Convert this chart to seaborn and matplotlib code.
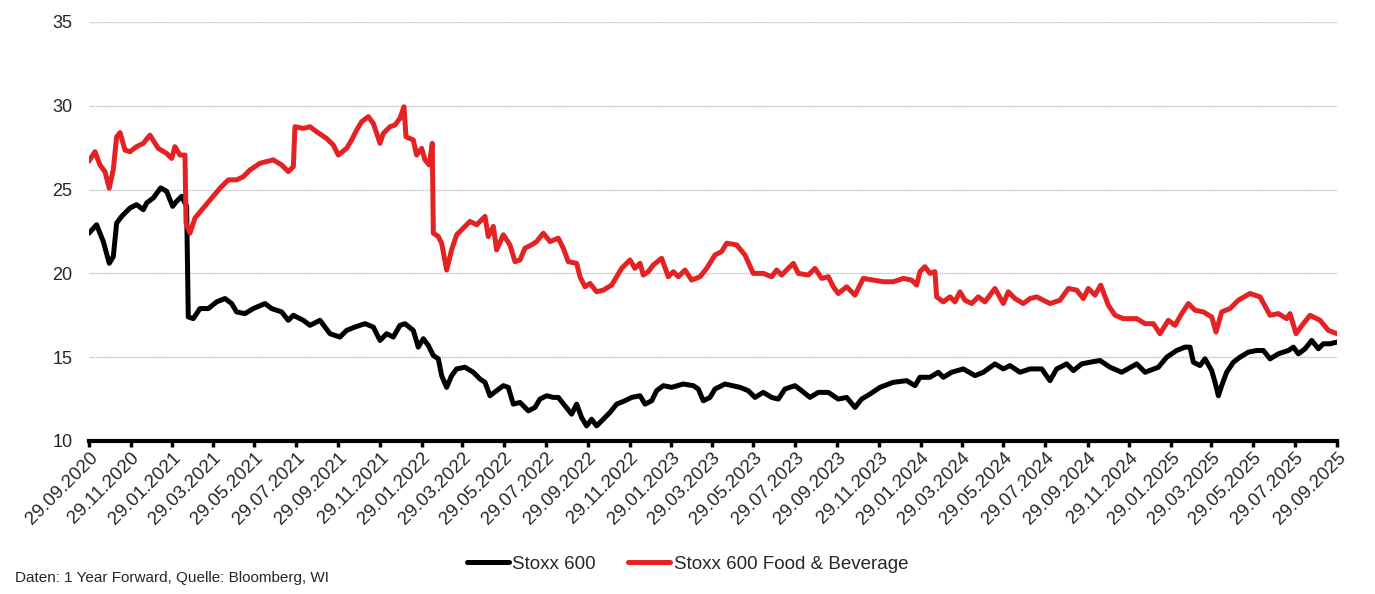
import pandas as pd
import seaborn as sns
import matplotlib.pyplot as plt
import matplotlib.dates as mdates

START = pd.Timestamp("2020-09-29")
END = pd.Timestamp("2025-09-29")

# days after 29.09.2020
food_days = [0, 8.8, 16.1, 23.4, 29.7, 35.6, 40.5, 45.4, 52.7, 60, 69.7, 79.5, 89.2, 101.4, 113.6, 121,
             125.8, 133.1, 140.5, 142, 147.8, 155.1, 167.3, 181.9, 191.7, 203.9, 216, 225.8, 235.5, 250.2,
             260, 269.7, 281.9, 291.6, 299, 301.4, 313.6, 323.3, 333.1, 347.7, 357.5, 364.8, 377, 384.3,
             391.6, 399, 408.7, 416, 425.8, 430.6, 440.4, 447.7,
             455, 460.9, 463.8, 474.5, 479.4, 486.7, 491.6, 497.9, 502.3, 503.8, 511.1, 516, 523.3, 530.6,
             537.9, 547.7, 557.4, 567.2, 579.4, 584.2, 591.6, 596.4, 606.2, 615.9, 623.3, 630.6, 637.9,
             647.6, 655, 664.7, 674.5, 686.7, 694, 701.3, 713.5, 718.4, 725.7, 733, 742.7, 752.5, 764.7,
             772, 779.3, 791.5, 798.8, 806.2, 811, 818.3, 825.6, 837.8, 847.6, 854.9, 862.3, 872, 881.8,
             894, 903.7, 915.9, 925.6, 933,
             947.6, 959.7, 971.9, 986.6, 998.8, 1006.1, 1013.4, 1030.5, 1037.8, 1052.4, 1062.2, 1071.9,
             1081.7, 1089, 1096.3, 1108.5, 1120.7, 1132.9, 1147.5, 1162.1, 1176.8, 1191.4, 1203.6, 1210.9,
             1215.8, 1223.1, 1230.4, 1237.7, 1240.2, 1250, 1259.7, 1267, 1274.3, 1281.6, 1291.4, 1301.1,
             1310.9, 1325.5, 1337.7, 1345, 1354.8, 1367,
             1376.8, 1386.5, 1396.3, 1406, 1420.7, 1432.9, 1445.1, 1454.8, 1462.1, 1471.9, 1480.2, 1491.4,
             1501.2, 1513.4, 1532.9, 1545.1, 1557.3, 1567, 1579.2, 1589, 1598.7, 1608.5, 1618.2, 1630.4,
             1642.6, 1648.9, 1657.2, 1669.4, 1681.6, 1698.7, 1713.3, 1728, 1740.1, 1752.3, 1757.2, 1766,
             1776.7, 1786.5, 1801.1, 1813.3, 1826]
food_values = [26.7, 27.26, 26.47, 26.07, 25.08, 26.2, 28.15, 28.4, 27.36, 27.26, 27.56, 27.76, 28.25, 27.46,
               27.16, 26.86, 27.56, 27.06, 27.06, 23.0, 22.4, 23.3, 23.9, 24.6, 25.08, 25.58, 25.58, 25.77,
               26.17, 26.57, 26.67, 26.77, 26.47, 26.07, 26.37, 28.75, 28.65, 28.75, 28.45, 28.05, 27.66,
               27.06, 27.46, 27.96, 28.55, 29.05, 29.35, 28.95, 27.76, 28.35, 28.75, 28.85,
               29.25, 29.94, 28.15, 27.96, 27.06, 27.46, 26.77, 26.47, 27.76, 22.4, 22.2, 21.8, 20.2, 21.4,
               22.3, 22.7, 23.1, 22.9, 23.4, 22.2, 22.8, 21.4, 22.3, 21.7, 20.7, 20.8, 21.5, 21.7, 21.9,
               22.4, 21.9, 22.1, 21.5, 20.7, 20.6, 19.8, 19.2, 19.4, 18.9, 19.0, 19.3, 19.8, 20.3, 20.8,
               20.3, 20.6, 19.9, 20.1, 20.5, 20.9, 19.8, 20.1, 19.8, 20.2, 19.6, 19.8, 20.3, 21.1, 21.3, 21.8,
               21.7, 21.1, 20.0, 20.0, 19.8, 20.2, 19.9, 20.6, 20.0, 19.9, 20.3, 19.7, 19.8, 19.2, 18.8,
               19.2, 18.7, 19.7, 19.6, 19.5, 19.5, 19.7, 19.6, 19.3, 20.1, 20.4, 20.0, 20.1, 18.6, 18.3,
               18.6, 18.3, 18.9, 18.4, 18.2, 18.6, 18.3, 19.1, 18.2, 18.9, 18.5, 18.2,
               18.5, 18.6, 18.4, 18.2, 18.4, 19.1, 19.0, 18.5, 19.1, 18.7, 19.3, 18.1, 17.5, 17.3, 17.3,
               17.0, 17.0, 16.4, 17.2, 16.9, 17.6, 18.2, 17.8, 17.7, 17.4, 16.5, 17.7, 17.9, 18.4, 18.8,
               18.6, 17.5, 17.6, 17.3, 17.6, 16.4, 17.0, 17.5, 17.2, 16.6, 16.4]

stoxx_days = [0, 11.2, 21, 29.7, 35.6, 40.5, 47.8, 60, 69.7, 79.5, 84.4, 94.1, 104.9, 113.6, 122.4, 128.3,
              135.6, 142.9, 145.3, 152.6, 162.4, 174.6, 186.8, 199, 208.7, 216, 228.2, 240.4, 257.5, 267.3,
              281.9, 291.6, 299, 313.6, 323.3, 338, 352.6, 367.2, 377, 389.2, 403.8, 416, 425.8, 435.5, 445.3,
              455, 462.3, 474.5, 481.8, 489.1, 496.5, 503.8, 511.1, 516, 523.3, 530.6, 537.9, 550.1, 562.3,
              572, 579.4, 586.7, 596.4, 606.2, 613.5, 620.8, 630.6, 642.8, 652.5, 659.8, 669.6, 679.3, 686.7,
              696.4, 706.2, 713.5, 720.8, 728.1, 735.4, 742.7, 752.5, 762.2, 772, 784.2, 794, 806.2, 813.5,
              823.3, 830.5, 840.3, 852.5, 869.5, 884.2, 891.5, 898.8, 908.6, 915.9, 930.5,
              952.4, 964.6, 974.4, 986.6, 998.8, 1008.5, 1018.3, 1032.9, 1042.7, 1054.9, 1067.1, 1081.7,
              1096.3, 1108.5, 1120.7, 1130.4, 1142.6, 1157.3, 1176.8, 1196.3, 1208.5, 1215.8, 1230.4, 1242.6,
              1250, 1262.1, 1279.2, 1296.3, 1308.5, 1325.5, 1337.7, 1347.5, 1362.1,
              1376.8, 1393.9, 1406, 1415.8, 1430.4, 1440.2, 1452.4, 1464.6, 1479.2, 1493.9, 1510.9, 1532.9,
              1545.1, 1564.6, 1576.8, 1591.4, 1603.6, 1610.9, 1615.8, 1625.5, 1632.8, 1642.6, 1647.5, 1652.4,
              1657.2, 1664.5, 1674.3, 1684, 1696.2, 1708.5, 1718.2, 1728, 1740.1, 1754.8, 1762.1, 1769.4,
              1779.2, 1788.9, 1798.7, 1806, 1815.7, 1826]
stoxx_values = [22.4, 22.9, 21.9, 20.6, 21.0, 23.0, 23.4, 23.9, 24.1, 23.8, 24.2, 24.5, 25.1, 24.9, 24.0, 24.3,
                24.6, 24.0, 17.4, 17.3, 17.9, 17.9, 18.3, 18.5, 18.2, 17.7, 17.6, 17.9, 18.2, 17.9,
                17.7, 17.2, 17.5, 17.2, 16.9, 17.2, 16.4, 16.2, 16.6, 16.8, 17.0, 16.8, 16.0, 16.4, 16.2,
                16.9, 17.0, 16.6, 15.6, 16.1, 15.7, 15.1, 14.9, 13.9, 13.2, 13.9, 14.3, 14.4, 14.1,
                13.7, 13.5, 12.7, 13.0, 13.3, 13.2, 12.2, 12.3, 11.8, 12.0, 12.5, 12.7, 12.6, 12.6,
                12.1, 11.6, 12.2, 11.4, 10.9, 11.3, 10.9, 11.3, 11.7, 12.2, 12.4, 12.6, 12.7, 12.2,
                12.4, 13.0, 13.3, 13.2, 13.4, 13.3, 13.1, 12.4, 12.6, 13.1, 13.4,
                13.2, 13.0, 12.6, 12.9, 12.6, 12.5, 13.1, 13.3, 13.0, 12.6, 12.9, 12.9,
                12.5, 12.6, 12.0, 12.5, 12.8, 13.2, 13.5, 13.6, 13.3, 13.8, 13.8, 14.1,
                13.8, 14.1, 14.3, 13.9, 14.1, 14.6, 14.3, 14.5, 14.1,
                14.3, 14.3, 13.6, 14.3, 14.6, 14.2, 14.6, 14.7, 14.8, 14.4, 14.1, 14.6,
                14.1, 14.4, 15.0, 15.4, 15.6, 15.6, 14.7, 14.5, 14.9, 14.2, 13.5, 12.7,
                13.3, 14.1, 14.7, 15.0, 15.3, 15.4, 15.4, 14.9, 15.2, 15.4, 15.6, 15.2,
                15.5, 16.0, 15.5, 15.8, 15.8, 15.9]

series_names = ["Stoxx 600", "Stoxx 600 Food & Beverage"]
series_colors = ["#000000", "#E42224"]
source_note = "Daten: 1 Year Forward, Quelle: Bloomberg, WI"

stoxx = pd.DataFrame({"date": START + pd.to_timedelta(stoxx_days, unit="D"),
                      "pe": stoxx_values, "series": series_names[0]})
food = pd.DataFrame({"date": START + pd.to_timedelta(food_days, unit="D"),
                     "pe": food_values, "series": series_names[1]})
df = pd.concat([stoxx, food], ignore_index=True)

sns.set_style("white")
plt.rcParams["font.family"] = ["Liberation Sans", "DejaVu Sans"]

fig, ax = plt.subplots(figsize=(13.75, 5.94), dpi=100)
fig.subplots_adjust(left=0.0647, right=0.9724, top=0.963, bottom=0.2576)

sns.lineplot(data=df, x="date", y="pe", hue="series", palette=dict(zip(series_names, series_colors)),
             linewidth=3.6, ax=ax, legend=False)

# axes styling
ax.set_xlim(START, END)
ax.set_ylim(10, 35)
ax.set_yticks([10, 15, 20, 25, 30, 35])
ax.yaxis.grid(True, color="#c4c4c4", linewidth=1.0, linestyle=(0, (1, 0.5)))
ax.set_axisbelow(True)
for side in ["left", "right", "top"]:
    ax.spines[side].set_visible(False)
ax.spines["bottom"].set_color("black")
ax.spines["bottom"].set_linewidth(3)
ax.tick_params(axis="y", length=0, labelsize=13, pad=12)
ax.tick_params(axis="x", bottom=True, length=4, width=2.5, color="black", direction="out",
               labelsize=13.5, pad=2)

# ticks on the 29th of every second month
tick_dates = pd.date_range("2020-09-01", periods=31, freq="2MS") + pd.Timedelta(days=28)
ax.set_xticks(tick_dates)
ax.xaxis.set_major_formatter(mdates.DateFormatter("%d.%m.%Y"))
plt.setp(ax.get_xticklabels(), rotation=45, ha="right", rotation_mode="anchor")
ax.set_xlabel("")
ax.set_ylabel("")

# legend and source
handles = [plt.Line2D([], [], color=c, linewidth=3.6) for c in series_colors]
fig.legend(handles, series_names, loc="center", bbox_to_anchor=(0.5, 1 - 564 / 594), ncol=2,
           frameon=False, fontsize=13.5, handlelength=2.25, columnspacing=1.7, handletextpad=0.2)
fig.text(0.011, 1 - 578 / 594, source_note, fontsize=11, va="center", ha="left")

fig.savefig("out.png", dpi=100)
